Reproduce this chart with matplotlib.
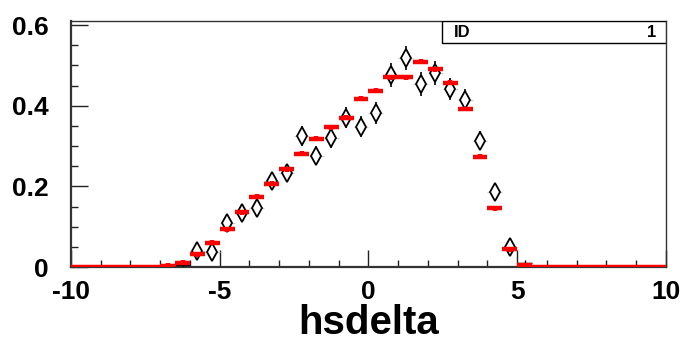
import matplotlib
matplotlib.use("Agg")
import matplotlib.pyplot as plt
from matplotlib.patches import Rectangle
from matplotlib.ticker import MultipleLocator
import numpy as np

plt.rcParams["font.family"] = ["Liberation Sans", "DejaVu Sans"]
plt.rcParams["font.weight"] = "bold"

# ── data ──────────────────────────────────────────────────────────────────────
bin_centers = [-9.75 + 0.5 * i for i in range(40)]
ref_values = [
    0, 0, 0, 0, 0, 0,
    0.003, 0.011, 0.032, 0.060, 0.094, 0.136, 0.174, 0.207, 0.242, 0.281,
    0.318, 0.347, 0.370, 0.417, 0.437, 0.470, 0.470, 0.509, 0.490, 0.457,
    0.392, 0.274, 0.146, 0.044, 0.005,
    0, 0, 0, 0, 0, 0, 0, 0, 0,
]
ref_err = 0.006

data_x = [-5.75, -5.25, -4.75, -4.25, -3.75, -3.25, -2.75, -2.25, -1.75,
          -1.25, -0.75, -0.25, 0.25, 0.75, 1.25, 1.75, 2.25, 2.75, 3.25,
          3.75, 4.25, 4.75]
data_y = [0.041, 0.037, 0.108, 0.135, 0.146, 0.214, 0.232, 0.325, 0.276,
          0.319, 0.370, 0.348, 0.381, 0.476, 0.519, 0.454, 0.481, 0.441,
          0.414, 0.313, 0.185, 0.050]
data_err = [0.010, 0.010, 0.015, 0.017, 0.017, 0.020, 0.021, 0.025, 0.023,
            0.025, 0.026, 0.026, 0.027, 0.029, 0.030, 0.029, 0.030, 0.028,
            0.028, 0.024, 0.019, 0.011]

# near-zero bins: drawn as bare error crosses
tiny_x = [-6.25, 5.25]
tiny_y = [0.006, 0.010]
tiny_err = [0.006, 0.008]

# ── figure ────────────────────────────────────────────────────────────────────
fig = plt.figure(figsize=(6.86, 3.5), dpi=100)
ax = fig.add_axes([0.1035, 0.237, 0.8673, 0.703])

ax.set_xlim(-10, 10)
ax.set_ylim(0, 0.61)

# faint horizontal bin-width error bars of the data points
ax.errorbar(data_x, data_y, xerr=0.25, fmt="none", ecolor="#c8c8c8",
            elinewidth=0.8, zorder=2)
# vertical error bars
ax.errorbar(data_x, data_y, yerr=data_err, fmt="none", ecolor="black",
            elinewidth=1.2, zorder=3)
ax.errorbar(tiny_x, tiny_y, xerr=0.25, yerr=tiny_err, fmt="none",
            ecolor="black", elinewidth=1.0, zorder=3)
# open diamonds
ax.plot(data_x, data_y, linestyle="none", marker="d", markersize=9,
        markerfacecolor="white", markeredgecolor="black",
        markeredgewidth=1.3, zorder=4)

# red reference histogram
ax.errorbar(bin_centers, ref_values, xerr=0.25, yerr=ref_err, fmt="none",
            ecolor="#ff0000", elinewidth=3.2, zorder=5)

# ── axes styling ──────────────────────────────────────────────────────────────
for side in ["left", "right", "top", "bottom"]:
    ax.spines[side].set_color("#333333")
    ax.spines[side].set_linewidth(1.0)
ax.spines["left"].set_linewidth(1.6)
ax.spines["bottom"].set_linewidth(1.6)

ax.xaxis.set_major_locator(MultipleLocator(5))
ax.xaxis.set_minor_locator(MultipleLocator(1))
ax.yaxis.set_major_locator(MultipleLocator(0.2))
ax.yaxis.set_minor_locator(MultipleLocator(0.05))
ax.tick_params(which="both", direction="in", top=False, right=False,
               color="#222222", width=1.0)
ax.tick_params(which="major", length=12, labelsize=19, pad=9)
ax.tick_params(which="minor", length=5)
ax.tick_params(axis="y", which="major", pad=16)
ax.set_xticks([-10, -5, 0, 5, 10])
ax.set_xticklabels(["-10", "-5", "0", "5", "10"])
ax.set_yticks([0, 0.2, 0.4, 0.6])
ax.set_yticklabels(["0", "0.2", "0.4", "0.6"])
for lbl in ax.get_xticklabels() + ax.get_yticklabels():
    lbl.set_fontweight("bold")

ax.set_xlabel("hsdelta", fontsize=29, fontweight="bold", labelpad=0)

# stats box
ax.add_patch(Rectangle((0.6235, 0.9106), 0.3765, 0.0894,
                       transform=ax.transAxes, facecolor="white",
                       edgecolor="black", linewidth=1.0, zorder=6))
ax.text(0.643, 0.953, "ID", transform=ax.transAxes, fontsize=12,
        fontweight="bold", va="center", ha="left", zorder=7)
ax.text(0.983, 0.953, "1", transform=ax.transAxes, fontsize=12,
        fontweight="bold", va="center", ha="right", zorder=7)

fig.savefig("out.png", dpi=100, facecolor="white")
